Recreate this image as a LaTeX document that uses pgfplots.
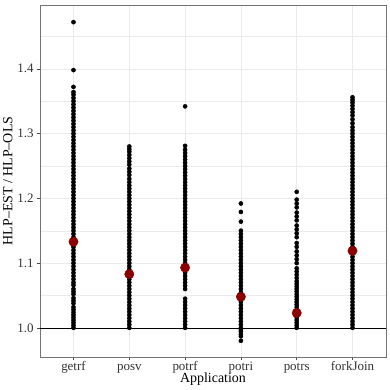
\documentclass[border=0pt]{standalone}
\usepackage{pgfplots}
\pgfplotsset{compat=1.18}
\usepackage{fontspec}
\setmainfont{Liberation Serif}
\definecolor{meanred}{HTML}{8B0000}
\definecolor{gridgray}{HTML}{EBEBEB}
\definecolor{tickgray}{HTML}{333333}

\begin{document}
\begin{tikzpicture}
\begin{axis}[
  at={(0,0)}, anchor=south west,
  scale only axis, width=346bp, height=352bp,
  xmin=0.4, xmax=6.6, ymin=0.955, ymax=1.4985,
  xtick={1,2,3,4,5,6},
  xticklabels={getrf,posv,potrf,potri,potrs,forkJoin},
  ytick={1.0,1.1,1.2,1.3,1.4},
  minor ytick={1.05,1.15,1.25,1.35,1.45},
  yticklabel style={/pgf/number format/.cd,fixed,fixed zerofill,precision=1},
  /pgf/number format/assume math mode=true,
  grid=both,
  major grid style={gridgray, line width=0.55pt},
  minor grid style={gridgray, line width=0.3pt},
  tick align=outside, xtick pos=bottom, ytick pos=left,
  major tick length=3bp, minor tick length=0pt,
  tick style={black!70, line width=0.5pt},
  axis line style={black!55, line width=0.5pt},
  ticklabel style={font=\fontsize{13}{15}\selectfont, text=tickgray},
  xticklabel style={text height=9bp, text depth=2bp, inner sep=1.5bp},
  label style={font=\fontsize{14}{16}\selectfont},
  xlabel={Application}, ylabel={HLP--EST / HLP--OLS},
  xlabel style={yshift=4.5bp},
  ylabel style={yshift=-2bp},
  clip=false,
  pts/.style={only marks, mark=*, mark size=2.1pt, black},
]
\addplot[black, line width=0.6pt] coordinates {(0.4,1)(6.6,1)};
% getrf
\addplot[pts] coordinates {(1,1.000)(1,1.004)(1,1.008)(1,1.012)(1,1.016)(1,1.020)(1,1.024)(1,1.028)(1,1.032)(1,1.038)(1,1.042)(1,1.046)(1,1.052)(1,1.056)(1,1.060)(1,1.066)(1,1.070)(1,1.075)(1,1.080)(1,1.085)(1,1.090)(1,1.095)(1,1.100)(1,1.105)(1,1.110)(1,1.115)(1,1.120)(1,1.125)(1,1.130)(1,1.136)(1,1.140)(1,1.145)(1,1.150)(1,1.155)(1,1.160)(1,1.165)(1,1.170)(1,1.175)(1,1.180)(1,1.185)(1,1.190)(1,1.195)(1,1.200)(1,1.205)(1,1.210)(1,1.215)(1,1.220)(1,1.225)(1,1.230)(1,1.235)(1,1.240)(1,1.245)(1,1.250)(1,1.255)(1,1.260)(1,1.265)(1,1.270)(1,1.275)(1,1.280)(1,1.285)(1,1.290)(1,1.295)(1,1.300)(1,1.305)(1,1.310)(1,1.315)(1,1.320)(1,1.325)(1,1.330)(1,1.335)(1,1.340)(1,1.345)(1,1.350)(1,1.355)(1,1.360)(1,1.364)(1,1.372)(1,1.398)(1,1.472)};
% posv
\addplot[pts] coordinates {(2,1.000)(2,1.005)(2,1.010)(2,1.015)(2,1.020)(2,1.025)(2,1.030)(2,1.035)(2,1.040)(2,1.045)(2,1.050)(2,1.055)(2,1.060)(2,1.065)(2,1.070)(2,1.075)(2,1.080)(2,1.085)(2,1.090)(2,1.095)(2,1.100)(2,1.105)(2,1.110)(2,1.115)(2,1.120)(2,1.125)(2,1.130)(2,1.135)(2,1.140)(2,1.145)(2,1.150)(2,1.155)(2,1.160)(2,1.165)(2,1.170)(2,1.175)(2,1.180)(2,1.185)(2,1.190)(2,1.195)(2,1.200)(2,1.205)(2,1.210)(2,1.215)(2,1.220)(2,1.225)(2,1.230)(2,1.236)(2,1.241)(2,1.246)(2,1.252)(2,1.257)(2,1.262)(2,1.267)(2,1.272)(2,1.276)(2,1.280)};
% potrf
\addplot[pts] coordinates {(3,1.000)(3,1.005)(3,1.010)(3,1.015)(3,1.020)(3,1.025)(3,1.030)(3,1.035)(3,1.040)(3,1.045)(3,1.060)(3,1.065)(3,1.070)(3,1.075)(3,1.080)(3,1.085)(3,1.090)(3,1.095)(3,1.100)(3,1.105)(3,1.110)(3,1.115)(3,1.120)(3,1.125)(3,1.130)(3,1.135)(3,1.140)(3,1.145)(3,1.150)(3,1.155)(3,1.160)(3,1.165)(3,1.170)(3,1.175)(3,1.180)(3,1.185)(3,1.190)(3,1.195)(3,1.200)(3,1.205)(3,1.210)(3,1.215)(3,1.220)(3,1.225)(3,1.230)(3,1.235)(3,1.240)(3,1.245)(3,1.250)(3,1.255)(3,1.260)(3,1.265)(3,1.270)(3,1.275)(3,1.281)(3,1.342)};
% potri
\addplot[pts] coordinates {(4,0.980)(4,0.987)(4,0.990)(4,0.994)(4,0.997)(4,1.000)(4,1.005)(4,1.010)(4,1.015)(4,1.020)(4,1.025)(4,1.030)(4,1.035)(4,1.040)(4,1.045)(4,1.050)(4,1.055)(4,1.060)(4,1.065)(4,1.070)(4,1.075)(4,1.080)(4,1.085)(4,1.090)(4,1.095)(4,1.100)(4,1.105)(4,1.110)(4,1.115)(4,1.120)(4,1.125)(4,1.130)(4,1.135)(4,1.140)(4,1.145)(4,1.150)(4,1.164)(4,1.179)(4,1.192)};
% potrs
\addplot[pts] coordinates {(5,1.000)(5,1.004)(5,1.008)(5,1.012)(5,1.016)(5,1.020)(5,1.024)(5,1.028)(5,1.032)(5,1.036)(5,1.040)(5,1.044)(5,1.048)(5,1.052)(5,1.056)(5,1.060)(5,1.064)(5,1.068)(5,1.072)(5,1.077)(5,1.082)(5,1.087)(5,1.092)(5,1.100)(5,1.106)(5,1.112)(5,1.118)(5,1.125)(5,1.131)(5,1.140)(5,1.146)(5,1.152)(5,1.158)(5,1.166)(5,1.172)(5,1.178)(5,1.186)(5,1.192)(5,1.198)(5,1.210)};
% forkJoin
\addplot[pts] coordinates {(6,1.000)(6,1.005)(6,1.010)(6,1.015)(6,1.020)(6,1.025)(6,1.030)(6,1.035)(6,1.040)(6,1.045)(6,1.050)(6,1.055)(6,1.060)(6,1.065)(6,1.070)(6,1.075)(6,1.080)(6,1.085)(6,1.090)(6,1.095)(6,1.100)(6,1.105)(6,1.110)(6,1.115)(6,1.120)(6,1.125)(6,1.130)(6,1.135)(6,1.140)(6,1.145)(6,1.150)(6,1.155)(6,1.160)(6,1.165)(6,1.170)(6,1.175)(6,1.180)(6,1.185)(6,1.190)(6,1.195)(6,1.200)(6,1.205)(6,1.210)(6,1.215)(6,1.220)(6,1.225)(6,1.230)(6,1.235)(6,1.240)(6,1.245)(6,1.250)(6,1.255)(6,1.260)(6,1.265)(6,1.270)(6,1.275)(6,1.280)(6,1.285)(6,1.290)(6,1.295)(6,1.300)(6,1.305)(6,1.310)(6,1.316)(6,1.322)(6,1.328)(6,1.333)(6,1.338)(6,1.343)(6,1.348)(6,1.352)(6,1.356)};
% means
\addplot[only marks, mark=*, mark size=4.7pt, meanred] coordinates {(1,1.133)(2,1.083)(3,1.093)(4,1.048)(5,1.023)(6,1.119)};
\end{axis}
\pgfresetboundingbox
\path (-40bp,-33bp) rectangle (350bp,357bp);
\end{tikzpicture}
\end{document}
